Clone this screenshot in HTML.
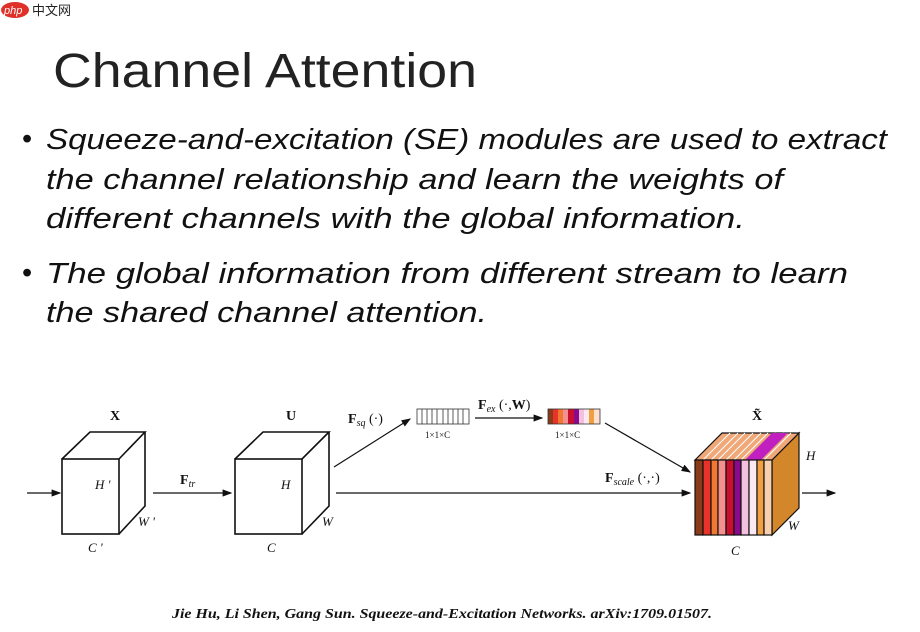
<!DOCTYPE html>
<html><head><meta charset="utf-8"><style>
html,body{margin:0;padding:0;background:#fff;}
svg{display:block;}
</style></head><body>
<svg width="920" height="632" viewBox="0 0 920 632" xmlns="http://www.w3.org/2000/svg">
<rect width="920" height="632" fill="#fff"/>
<!-- logo -->
<ellipse cx="15" cy="10" rx="14" ry="8" fill="#e0302a"/>
<text x="4" y="14" font-family="Liberation Sans, sans-serif" font-size="11" font-style="italic" fill="#fff">php</text>
<text x="32" y="15" font-family="Liberation Sans, 'Noto Sans CJK SC', sans-serif" font-size="13" fill="#222">中文网</text>
<!-- title -->
<text x="53" y="87" font-family="Liberation Sans, sans-serif" font-size="48" fill="#222" textLength="424" lengthAdjust="spacingAndGlyphs">Channel Attention</text>
<g font-family="Liberation Sans, sans-serif" font-size="29" font-style="italic" fill="#111">
<text x="22" y="148" font-style="normal">•</text>
<text x="46" y="149" textLength="841" lengthAdjust="spacingAndGlyphs">Squeeze-and-excitation (SE) modules are used to extract</text>
<text x="46" y="189" textLength="737" lengthAdjust="spacingAndGlyphs">the channel relationship and learn the weights of</text>
<text x="46" y="228" textLength="699" lengthAdjust="spacingAndGlyphs">different channels with the global information.</text>
<text x="22" y="282" font-style="normal">•</text>
<text x="46" y="283" textLength="802" lengthAdjust="spacingAndGlyphs">The global information from different stream to learn</text>
<text x="46" y="322" textLength="441" lengthAdjust="spacingAndGlyphs">the shared channel attention.</text>
</g>
<defs><marker id="a" markerWidth="8" markerHeight="6" refX="7" refY="3" orient="auto"><path d="M0,0 L8,3 L0,6 z" fill="#111"/></marker></defs>
<g stroke="#111" stroke-width="1.6" fill="none">
<!-- cube X -->
<rect x="62" y="459" width="57" height="75" fill="#fff"/>
<path d="M62,459 L90,432 L145,432 L119,459 M145,432 L145,506 L119,534"/>
<!-- cube U -->
<rect x="235" y="459" width="67" height="75" fill="#fff"/>
<path d="M235,459 L263,432 L329,432 L302,459 M329,432 L329,506 L302,534"/>
<!-- arrows -->
<line x1="27" y1="493" x2="60" y2="493" marker-end="url(#a)" stroke-width="1.2"/>
<line x1="153" y1="493" x2="231" y2="493" marker-end="url(#a)" stroke-width="1.2"/>
<line x1="334" y1="467" x2="410" y2="419" marker-end="url(#a)" stroke-width="1.2"/>
<line x1="336" y1="493" x2="690" y2="493" marker-end="url(#a)" stroke-width="1.2"/>
<line x1="475" y1="418" x2="542" y2="418" marker-end="url(#a)" stroke-width="1.2"/>
<line x1="605" y1="423" x2="690" y2="472" marker-end="url(#a)" stroke-width="1.2"/>
<line x1="802" y1="493" x2="835" y2="493" marker-end="url(#a)" stroke-width="1.2"/>
</g>
<!-- bar 1 -->
<g stroke="#333" stroke-width="0.8" fill="#fff">
<rect x="417" y="409" width="52" height="15"/>
<path d="M422,409V424M427,409V424M432,409V424M437,409V424M443,409V424M448,409V424M453,409V424M458,409V424M463,409V424"/>
</g>
<!-- colored bar -->
<g stroke="none">
<rect x="548" y="409" width="5" height="15" fill="#8b3a1a"/>
<rect x="553" y="409" width="5" height="15" fill="#e8322a"/>
<rect x="558" y="409" width="5" height="15" fill="#f07830"/>
<rect x="563" y="409" width="5" height="15" fill="#f49090"/>
<rect x="568" y="409" width="6" height="15" fill="#c8102e"/>
<rect x="574" y="409" width="5" height="15" fill="#8b0a8b"/>
<rect x="579" y="409" width="5" height="15" fill="#f4c0e0"/>
<rect x="584" y="409" width="5" height="15" fill="#fce8f0"/>
<rect x="589" y="409" width="5" height="15" fill="#f0a040"/>
<rect x="594" y="409" width="6" height="15" fill="#fce0d0"/>
</g>
<rect x="548" y="409" width="52" height="15" fill="none" stroke="#333" stroke-width="0.8"/>
<!-- output cube -->
<g stroke="#111" stroke-width="1.2">
<polygon points="772,460 799,433 799,508 772,535" fill="#d4862a"/>
<polygon points="695,460 722,433 799,433 772,460" fill="#f0a878"/>
<path d="M703,460 L730,433 M711,460 L738,433 M718,460 L745,433 M726,460 L753,433 M734,460 L761,433 M741,460 L768,433 M749,460 L776,433 M757,460 L784,433 M764,460 L791,433" stroke="#fff" stroke-width="1"/>
<polygon points="745,460 772,433 788,433 761,460" fill="#c020c0" stroke="none"/>
<rect x="695" y="460" width="8" height="75" fill="#8b3a1a"/>
<rect x="703" y="460" width="8" height="75" fill="#e8322a"/>
<rect x="711" y="460" width="7" height="75" fill="#f07830"/>
<rect x="718" y="460" width="8" height="75" fill="#f49090"/>
<rect x="726" y="460" width="8" height="75" fill="#c8102e"/>
<rect x="734" y="460" width="7" height="75" fill="#8b0a8b"/>
<rect x="741" y="460" width="8" height="75" fill="#f4c0e0"/>
<rect x="749" y="460" width="8" height="75" fill="#fce8f0"/>
<rect x="757" y="460" width="7" height="75" fill="#f0a040"/>
<rect x="764" y="460" width="8" height="75" fill="#f8d0b0"/>
</g>
<!-- labels -->
<g font-family="Liberation Serif, serif" fill="#111">
<text x="110" y="420" font-weight="bold" font-size="14">X</text>
<text x="286" y="420" font-weight="bold" font-size="14">U</text>
<text x="752" y="420" font-weight="bold" font-size="14">X̃</text>
<text x="95" y="489" font-style="italic" font-size="13">H '</text>
<text x="138" y="526" font-style="italic" font-size="13">W '</text>
<text x="88" y="552" font-style="italic" font-size="13">C '</text>
<text x="281" y="489" font-style="italic" font-size="13">H</text>
<text x="322" y="526" font-style="italic" font-size="13">W</text>
<text x="267" y="552" font-style="italic" font-size="13">C</text>
<text x="806" y="460" font-style="italic" font-size="13">H</text>
<text x="788" y="530" font-style="italic" font-size="13">W</text>
<text x="731" y="555" font-style="italic" font-size="13">C</text>
<text x="180" y="484" font-size="14"><tspan font-weight="bold">F</tspan><tspan font-style="italic" font-size="10" dy="3">tr</tspan></text>
<text x="348" y="423" font-size="14"><tspan font-weight="bold">F</tspan><tspan font-style="italic" font-size="10" dy="3">sq</tspan><tspan dy="-3"> (·)</tspan></text>
<text x="478" y="409" font-size="14"><tspan font-weight="bold">F</tspan><tspan font-style="italic" font-size="10" dy="3">ex</tspan><tspan dy="-3"> (·,</tspan><tspan font-weight="bold">W</tspan><tspan>)</tspan></text>
<text x="605" y="482" font-size="14"><tspan font-weight="bold">F</tspan><tspan font-style="italic" font-size="10" dy="3">scale</tspan><tspan dy="-3"> (·,·)</tspan></text>
<text x="425" y="438" font-size="9">1×1×C</text>
<text x="555" y="438" font-size="9">1×1×C</text>
<text x="172" y="618" font-weight="bold" font-style="italic" font-size="14" textLength="540" lengthAdjust="spacingAndGlyphs">Jie Hu, Li Shen, Gang Sun. Squeeze-and-Excitation Networks. arXiv:1709.01507.</text>
</g>
</svg>
</body></html>
